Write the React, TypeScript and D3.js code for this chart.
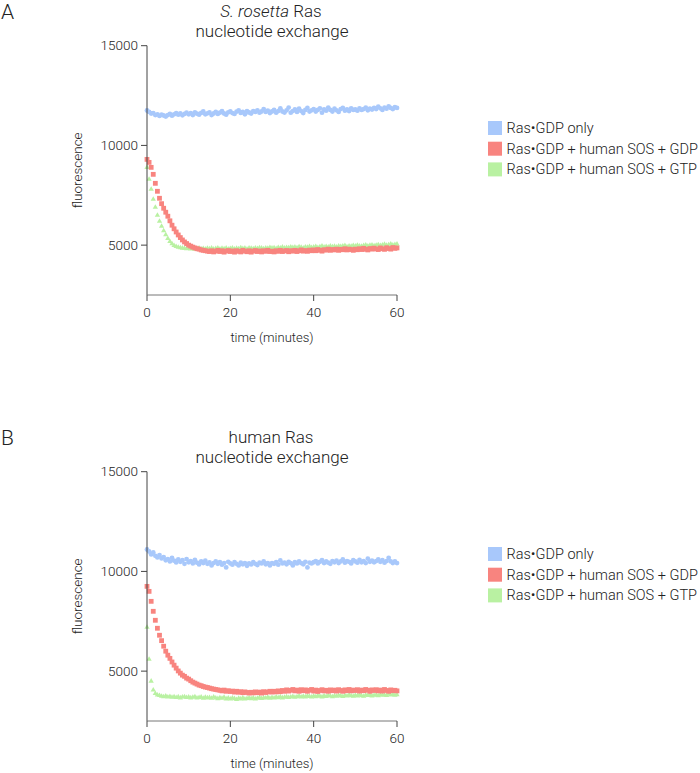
import React from 'react';
import * as d3 from 'd3';

// time grid (minutes), one reading every 0.5 min from 0 to 60
const timePoints = d3.range(0, 60.001, 0.5);

// Panel A: S. rosetta Ras
const blueA = [
  11750, 11680, 11600, 11620, 11520, 11560, 11480, 11540, 11500, 11450,
  11520, 11580, 11490, 11560, 11620, 11540, 11600, 11510, 11580, 11640,
  11560, 11620, 11520, 11660, 11590, 11540, 11630, 11700, 11560, 11610,
  11650, 11520, 11600, 11680, 11580, 11640, 11720, 11600, 11540, 11660,
  11700, 11620, 11580, 11690, 11750, 11630, 11680, 11560, 11720, 11650,
  11600, 11720, 11680, 11760, 11640, 11700, 11820, 11680, 11740, 11620,
  11700, 11780, 11640, 11720, 11860, 11700, 11650, 11760, 11900, 11640,
  11720, 11800, 11680, 11840, 11720, 11620, 11780, 11880, 11700, 11760,
  11820, 11700, 11780, 11860, 11640, 11800, 11740, 11900, 11780, 11700,
  11840, 11760, 11680, 11820, 11880, 11740, 11800, 11720, 11860, 11780,
  11800, 11740, 11860, 11780, 11820, 11900, 11760, 11840, 11800, 11880,
  11820, 11940, 11860, 11780, 11900, 11840, 11960, 11880, 11820, 11920,
  11880,
];
const redA = [
  9300, 9150, 8900, 8550, 8100, 7700, 7350, 7080, 6850, 6650,
  6450, 6220, 6000, 5820, 5660, 5510, 5380, 5260, 5160, 5080,
  5000, 4950, 4900, 4860, 4820, 4800, 4760, 4740, 4720, 4700,
  4680, 4720, 4660, 4700, 4740, 4680, 4720, 4650, 4700, 4730,
  4680, 4710, 4650, 4720, 4690, 4660, 4740, 4700, 4670, 4720,
  4650, 4700, 4730, 4680, 4710, 4660, 4720, 4690, 4740, 4680,
  4700, 4660, 4720, 4690, 4740, 4680, 4710, 4730, 4670, 4720,
  4700, 4740, 4680, 4720, 4760, 4700, 4730, 4690, 4750, 4720,
  4760, 4720, 4780, 4740, 4700, 4770, 4750, 4800, 4740, 4780,
  4760, 4800, 4740, 4790, 4770, 4820, 4760, 4800, 4780, 4740,
  4800, 4770, 4820, 4780, 4840, 4790, 4760, 4830, 4800, 4850,
  4810, 4780, 4860, 4820, 4790, 4870, 4830, 4800, 4880, 4840,
  4860,
];
const greenA = [
  8900, 8300, 7800, 7300, 6900, 6500, 6200, 5950, 5720, 5520,
  5330, 5180, 5070, 4980, 4930, 4890, 4870, 4850, 4840, 4820,
  4830, 4810, 4840, 4800, 4820, 4850, 4810, 4830, 4800, 4840,
  4820, 4850, 4800, 4830, 4860, 4810, 4840, 4820, 4850, 4800,
  4830, 4860, 4810, 4840, 4820, 4870, 4830, 4850, 4810, 4860,
  4840, 4820, 4860, 4830, 4870, 4850, 4820, 4860, 4840, 4880,
  4850, 4870, 4830, 4880, 4860, 4900, 4850, 4880, 4870, 4910,
  4880, 4900, 4870, 4920, 4890, 4860, 4910, 4890, 4930, 4880,
  4900, 4930, 4880, 4920, 4950, 4900, 4930, 4910, 4950, 4920,
  4940, 4910, 4960, 4930, 4950, 4980, 4920, 4960, 4940, 4980,
  4950, 4990, 4960, 4940, 4980, 5000, 4960, 4990, 5010, 4970,
  4990, 5020, 4980, 5010, 5040, 4990, 5020, 5060, 5000, 5030,
  5050,
];

// Panel B: human Ras
const blueB = [
  11100, 11000, 10850, 10950, 10780, 10700, 10820, 10650, 10720, 10560,
  10620, 10500, 10680, 10540, 10450, 10600, 10480, 10560, 10380, 10620,
  10460, 10520, 10400, 10580, 10440, 10350, 10500, 10420, 10540, 10380,
  10450, 10300, 10420, 10500, 10380, 10460, 10340, 10420, 10200, 10480,
  10400, 10340, 10460, 10380, 10300, 10440, 10360, 10420, 10280, 10400,
  10350, 10460, 10380, 10320, 10440, 10400, 10500, 10360, 10420, 10300,
  10420, 10380, 10460, 10340, 10550, 10400, 10440, 10360, 10480, 10420,
  10300, 10460, 10400, 10500, 10420, 10360, 10480, 10200, 10440, 10400,
  10460, 10520, 10400, 10480, 10560, 10420, 10500, 10440, 10380, 10520,
  10460, 10540, 10420, 10500, 10600, 10440, 10520, 10480, 10400, 10560,
  10500, 10440, 10580, 10460, 10520, 10420, 10640, 10480, 10540, 10460,
  10520, 10600, 10480, 10560, 10440, 10520, 10680, 10500, 10420, 10500,
  10420,
];
const redB = [
  9250, 9000, 8500, 8000, 7550, 7150, 6800, 6530, 6250, 6000,
  5800, 5640, 5460, 5300, 5150, 5010, 4900, 4800, 4740, 4650,
  4600, 4520, 4450, 4400, 4350, 4300, 4270, 4230, 4200, 4180,
  4150, 4120, 4100, 4080, 4060, 4040, 4010, 4050, 3990, 4020,
  3980, 4000, 3950, 3990, 3940, 3970, 3920, 3960, 3930, 3900,
  3940, 3910, 3960, 3920, 3950, 3900, 3970, 3930, 3960, 3990,
  3950, 3990, 3960, 4010, 3970, 4030, 3990, 4060, 4000, 4040,
  4080, 4010, 4050, 3990, 4070, 4020, 4060, 3990, 4040, 4080,
  4000, 4050, 3980, 4030, 4070, 4010, 4040, 3990, 4060, 4020,
  4050, 4000, 4070, 4030, 3990, 4060, 4020, 4080, 4010, 4050,
  4030, 4070, 4000, 4050, 4020, 4080, 4040, 3990, 4060, 4030,
  4070, 4010, 4050, 4000, 4080, 4030, 3990, 4060, 4020, 4040,
  4010,
];
const greenB = [
  7200, 5600, 4500, 4050, 3880, 3800, 3780, 3740, 3720, 3750,
  3700, 3730, 3690, 3720, 3680, 3710, 3660, 3700, 3720, 3680,
  3700, 3660, 3690, 3720, 3650, 3680, 3700, 3640, 3690, 3660,
  3680, 3640, 3700, 3650, 3620, 3670, 3640, 3690, 3610, 3650,
  3600, 3650, 3620, 3580, 3640, 3610, 3660, 3600, 3630, 3650,
  3620, 3660, 3600, 3640, 3680, 3630, 3670, 3650, 3690, 3640,
  3680, 3650, 3700, 3670, 3710, 3660, 3690, 3720, 3680, 3700,
  3730, 3690, 3720, 3750, 3700, 3740, 3710, 3760, 3730, 3700,
  3750, 3720, 3770, 3740, 3710, 3760, 3730, 3780, 3750, 3720,
  3770, 3740, 3790, 3760, 3730, 3780, 3750, 3800, 3770, 3740,
  3790, 3760, 3810, 3770, 3740, 3800, 3780, 3820, 3760, 3790,
  3810, 3770, 3830, 3790, 3820, 3780, 3840, 3800, 3830, 3790,
  3820,
];

const xTicks = [0, 20, 40, 60];
const yTicks = [5000, 10000, 15000];
const xDomain = [0, 60];
const yDomain = [2500, 15000];
const legendLabels = ['Ras•GDP only', 'Ras•GDP + human SOS + GDP', 'Ras•GDP + human SOS + GTP'];
const seriesColors = ['#a8c8fb', '#f8847f', '#b9f1a2'];

const FONT = "Roboto, 'Liberation Sans', Arial, sans-serif";
const FW = 300;
const AXIS = '#444';
const TEXT = '#222';

function Panel({ top, letter, titleLine1, blue, red, green }) {
  const x = d3.scaleLinear().domain(xDomain).range([147, 397]);
  const y = d3.scaleLinear().domain(yDomain).range([295, 45.7]);
  const tri = d3.symbol(d3.symbolTriangle, 12)();
  const [x0, x1] = x.range();
  const [yb, yt] = y.range();
  const txt = { fill: TEXT, fontFamily: FONT, fontWeight: FW };
  return (
    <g transform={`translate(0,${top})`}>
      <text x={1} y={19} fontSize={21} {...txt}>{letter}</text>
      <text x={271} y={16.5} fontSize={17} textAnchor="middle" {...txt}>
        {titleLine1}
      </text>
      <text x={272} y={36.5} fontSize={17} textAnchor="middle" {...txt}>
        nucleotide exchange
      </text>
      {/* data */}
      <g>
        {blue.map((v, i) => (
          <circle key={'b' + i} cx={x(timePoints[i])} cy={y(v)} r={2.4} fill={seriesColors[0]} />
        ))}
      </g>
      <g>
        {green.map((v, i) => (
          <path key={'g' + i} d={tri} transform={`translate(${x(timePoints[i])},${y(v)})`} fill={seriesColors[2]} />
        ))}
      </g>
      <g>
        {red.map((v, i) => (
          <rect key={'r' + i} x={x(timePoints[i]) - 2.4} y={y(v) - 2.4} width={4.8} height={4.8} fill={seriesColors[1]} />
        ))}
      </g>
      {/* y axis */}
      <line x1={x0} x2={x0} y1={yt} y2={yb} stroke={AXIS} strokeWidth={1} />
      {yTicks.map((t) => (
        <g key={'yt' + t}>
          <line x1={x0 - 6} x2={x0} y1={y(t)} y2={y(t)} stroke={AXIS} strokeWidth={1} />
          <text x={x0 - 9} y={y(t)} dy="0.35em" textAnchor="end" fontSize={13.5} {...txt}>
            {t}
          </text>
        </g>
      ))}
      {/* x axis */}
      <line x1={x0} x2={x1} y1={yb} y2={yb} stroke="#777" strokeWidth={1} />
      {xTicks.map((t) => (
        <g key={'xt' + t}>
          <line x1={x(t)} x2={x(t)} y1={yb} y2={yb + 6} stroke={AXIS} strokeWidth={1} />
          <text x={x(t)} y={yb + 22} textAnchor="middle" fontSize={13.5} {...txt}>
            {t}
          </text>
        </g>
      ))}
      <text x={272} y={yb + 47} textAnchor="middle" fontSize={13} {...txt}>
        time (minutes)
      </text>
      <text
        transform={`translate(82,${(yt + yb) / 2}) rotate(-90)`}
        textAnchor="middle"
        fontSize={13.5}
        {...txt}
      >
        fluorescence
      </text>
      {/* legend */}
      {legendLabels.map((lab, i) => (
        <g key={'lg' + i} transform={`translate(488,${128 + i * 20.7})`}>
          <rect x={0} y={-7} width={14} height={14} fill={seriesColors[i]} />
          <text x={18.5} y={0} dy="0.35em" fontSize={14.5} {...txt}>
            {lab}
          </text>
        </g>
      ))}
    </g>
  );
}

export default function App() {
  return (
    <svg
      width={700}
      height={773}
      style={{ position: 'absolute', left: 0, top: 0, background: '#fff' }}
    >
      <rect width={700} height={773} fill="#fff" />
      <Panel
        top={0}
        letter="A"
        titleLine1={
          <>
            <tspan fontStyle="italic">S. rosetta</tspan> Ras
          </>
        }
        blue={blueA}
        red={redA}
        green={greenA}
      />
      <Panel top={426} letter="B" titleLine1="human Ras" blue={blueB} red={redB} green={greenB} />
    </svg>
  );
}
